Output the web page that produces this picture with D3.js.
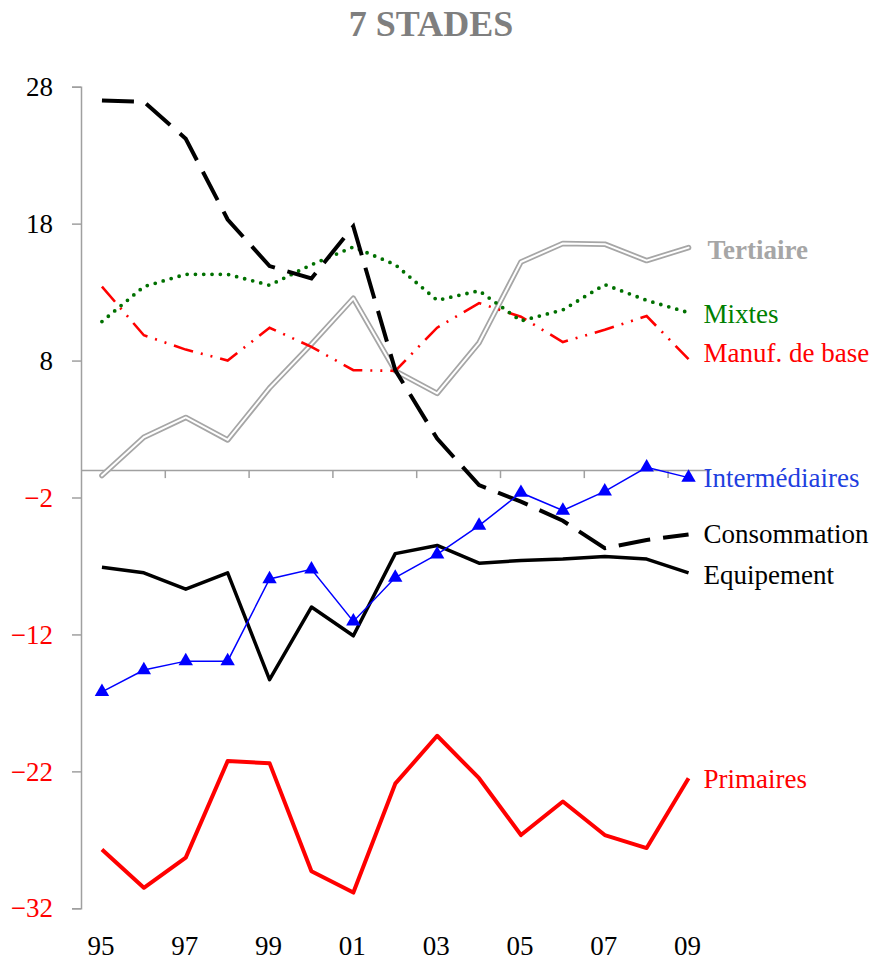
<!DOCTYPE html>
<html>
<head>
<meta charset="utf-8">
<script src="https://cdn.jsdelivr.net/npm/d3@7"></script>
<style>
  body { margin: 0; background: #fff; }
  text { font-family: "Liberation Serif", "Times New Roman", serif; }
</style>
</head>
<body>
<svg id="chart" width="877" height="960"></svg>
<script>
// years shown on the x axis
var years = ["95","96","97","98","99","00","01","02","03","04","05","06","07","08","09"];
var yTicks = [28, 18, 8, -2, -12, -22, -32];

var tertiaire      = [-0.4, 2.4, 3.85, 2.2, 6.0, 9.2, 12.55, 7.25, 5.6, 9.3, 15.2, 16.55, 16.5, 15.3, 16.25];
var mixtes         = [10.85, 13.4, 14.3, 14.3, 13.5, 15.0, 16.3, 15.0, 12.4, 13.1, 10.9, 11.7, 13.55, 12.4, 11.5];
var manuf          = [13.4, 9.85, 8.8, 8.0, 10.4, 9.0, 7.3, 7.25, 10.4, 12.2, 11.2, 9.35, 10.25, 11.25, 8.1];
var consommation   = [27.0, 26.9, 24.2, 18.3, 14.9, 14.0, 17.8, 7.3, 2.3, -1.1, -2.3, -3.7, -5.7, -5.1, -4.7];
var equipement     = [-7.1, -7.5, -8.7, -7.5, -15.3, -10.0, -12.1, -6.1, -5.5, -6.8, -6.6, -6.5, -6.3, -6.5, -7.5];
var intermediaires = [-16.2, -14.6, -13.95, -13.95, -7.95, -7.25, -11.05, -7.85, -6.15, -4.05, -1.65, -2.95, -1.55, 0.2, -0.55];
var primaires      = [-27.7, -30.5, -28.3, -21.25, -21.4, -29.3, -30.85, -22.9, -19.4, -22.5, -26.65, -24.2, -26.65, -27.6, -22.5];

var svg = d3.select("#chart");

var x = d3.scaleBand().domain(years).range([81, 709.5]).paddingInner(0).paddingOuter(0),
    xb = d3.scaleLinear().domain([0, years.length]).range([81, 709.5]),
    y = d3.scaleLinear().domain([-32, 28]).range([908.3, 86.7]);

function cx(i) { return x(years[i]) + x.bandwidth() / 2; }

svg.append("text")
  .attr("x", 431).attr("y", 36)
  .attr("text-anchor", "middle")
  .style("font-size", "36px").style("font-weight", "bold")
  .attr("fill", "#7f7f7f")
  .text("7 STADES");

// y axis
var yAxis = svg.append("g")
  .attr("transform", "translate(81,0)")
  .call(d3.axisLeft(y).tickValues(yTicks).tickSize(9).tickPadding(19).tickFormat(d3.format("d")));
yAxis.select(".domain").attr("stroke", "#a0a0a0").attr("stroke-width", 1.5);
yAxis.selectAll(".tick line").attr("stroke", "#a0a0a0").attr("stroke-width", 1.5);
yAxis.selectAll(".tick text")
  .style("font-size", "27px")
  .attr("font-family", null)
  .attr("fill", function(d) { return d < 0 ? "#ff0000" : "#000"; });

// zero line with marks every two years
var xAxis = svg.append("g")
  .attr("transform", "translate(0," + y(0) + ")")
  .call(d3.axisBottom(xb).tickValues(d3.range(2, years.length, 2)).tickSize(8).tickSizeOuter(0).tickFormat(""));
xAxis.select(".domain").attr("stroke", "#a0a0a0").attr("stroke-width", 1.5);
xAxis.selectAll(".tick line").attr("stroke", "#a0a0a0").attr("stroke-width", 1.5);

// year labels at the bottom
var xLabels = svg.append("g")
  .attr("transform", "translate(-1,935)")
  .call(d3.axisBottom(x).tickValues(years.filter(function(d, i) { return i % 2 == 0; })).tickSize(0).tickPadding(0));
xLabels.select(".domain").remove();
xLabels.selectAll(".tick text").style("font-size", "27px").attr("font-family", null).attr("fill", "#000").attr("dy", "0.75em");

var line = d3.line().x(function(d, i) { return cx(i); }).y(function(d) { return y(d); });

// tertiaire: double line
svg.append("path").datum(tertiaire).attr("d", line)
  .attr("fill", "none").attr("stroke", "#a6a6a6").attr("stroke-width", 5.5).attr("stroke-linejoin", "round").attr("stroke-linecap", "round");
svg.append("path").datum(tertiaire).attr("d", line)
  .attr("fill", "none").attr("stroke", "#fff").attr("stroke-width", 2).attr("stroke-linejoin", "round").attr("stroke-linecap", "round");

svg.append("path").datum(manuf).attr("d", line)
  .attr("fill", "none").attr("stroke", "#ff0000").attr("stroke-width", 2.6)
  .attr("stroke-dasharray", "20,8,2,8,2,8");

svg.append("path").datum(mixtes).attr("d", line)
  .attr("fill", "none").attr("stroke", "#007000").attr("stroke-width", 3.8)
  .attr("stroke-linecap", "round").attr("stroke-dasharray", "0,8.3");

svg.append("path").datum(consommation).attr("d", line)
  .attr("fill", "none").attr("stroke", "#000").attr("stroke-width", 4)
  .attr("stroke-dasharray", "32,13");

svg.append("path").datum(equipement).attr("d", line)
  .attr("fill", "none").attr("stroke", "#000").attr("stroke-width", 3.5).attr("stroke-linejoin", "round");

svg.append("path").datum(intermediaires).attr("d", line)
  .attr("fill", "none").attr("stroke", "#0000ff").attr("stroke-width", 1.5);
svg.selectAll(".tri").data(intermediaires).enter()
  .append("path")
  .attr("class", "tri")
  .attr("transform", function(d, i) { return "translate(" + cx(i) + "," + y(d) + ")"; })
  .attr("d", d3.symbol().type(d3.symbolTriangle).size(90))
  .attr("fill", "#0000ff");

svg.append("path").datum(primaires).attr("d", line)
  .attr("fill", "none").attr("stroke", "#ff0000").attr("stroke-width", 4).attr("stroke-linejoin", "round");

// series labels, placed next to the last point
var labels = [
  {name: "Tertiaire", values: tertiaire, color: "#a6a6a6", bold: true, dy: 2, dx: 19},
  {name: "Mixtes", values: mixtes, color: "#008000", dy: 1, dx: 15},
  {name: "Manuf. de base", values: manuf, color: "#ff0000", dy: -6, dx: 15},
  {name: "Intermédiaires", values: intermediaires, color: "#1f3fdf", dy: 0, dx: 15},
  {name: "Consommation", values: consommation, color: "#000", dy: 0, dx: 15},
  {name: "Equipement", values: equipement, color: "#000", dy: 2, dx: 15},
  {name: "Primaires", values: primaires, color: "#ff0000", dy: 1, dx: 15}
];

svg.selectAll(".lbl").data(labels).enter()
  .append("text")
  .attr("class", "lbl")
  .attr("x", function(d) { return cx(years.length - 1) + d.dx; })
  .attr("y", function(d) { return y(d.values[d.values.length - 1]) + d.dy + 9; })
  .style("font-size", "27px")
  .style("font-weight", function(d) { return d.bold ? "bold" : "normal"; })
  .attr("fill", function(d) { return d.color; })
  .text(function(d) { return d.name; });
</script>
</body>
</html>
